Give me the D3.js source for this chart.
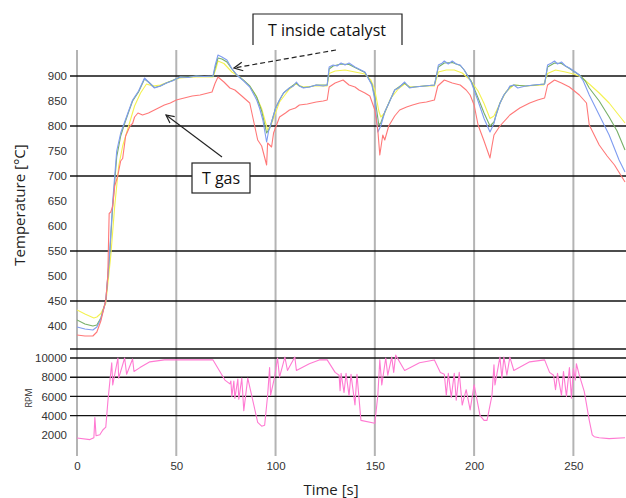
<!DOCTYPE html>
<html>
<head>
<meta charset="utf-8">
<script src="https://cdn.jsdelivr.net/npm/d3@7"></script>
<style>
  body { margin: 0; background: #fff; }
  svg { display: block; }
</style>
</head>
<body>
<div id="chart"></div>
<script>
// temperature + rpm over time, two stacked panels sharing the time axis

var w = 626;
var h = 498;

// time ticks
var timeTicks = [0, 50, 100, 150, 200, 250];
// temperature ticks (labels) and the lines that are drawn
var tempTicks = [400, 450, 500, 550, 600, 650, 700, 750, 800, 850, 900];
var tempLines = [900, 800, 700, 550, 450, 354];
// rpm ticks and lines
var rpmTicks = [2000, 4000, 6000, 8000, 10000];
var rpmLines = [4000, 6000, 8000, 10000];

// [time s, temperature C]
var blueData = [[0,398],[4,394],[8,392],[10,398],[12,414],[14.5,450],[16.5,550],[18,650],[20,750],[22,786],[24,808],[26,830],[28,852],[31,870],[34,896],[36,888],[39,876],[42,880],[45,886],[48,890],[52,898],[56,897],[60,900],[64,899],[68.5,900],[69.5,920],[71,942],[73,938],[75.5,932],[78,915],[80.5,902],[84,890],[87,878],[90.5,852],[92,835],[93.6,812],[95.5,768],[96.5,790],[98,808],[100,835],[102,852],[104,866],[107,876],[109,880],[110.5,888],[112,880],[114,876],[117,878],[120.5,882],[124,880],[126,882],[127,918],[129,922],[131,920],[133,926],[135,922],[137,926],[140,918],[143,912],[145,908],[148.5,882],[150,852],[151.5,788],[153,800],[155,828],[157,845],[160,872],[162,876],[165,888],[167.5,876],[170,878],[175,880],[180,882],[181,900],[182,922],[184,926],[185,930],[187,924],[189,930],[191,924],[193,922],[195,912],[198.5,888],[201.8,852],[205,815],[208,788],[210,805],[211,822],[213,845],[215,862],[217,872],[218,880],[220,882],[222,876],[226,880],[230,882],[235.5,884],[237,922],[239,926],[240.5,930],[242,924],[244,928],[246,920],[248,916],[251,908],[253,902],[255,890],[258,862],[263,822],[268,782],[273,732],[276,708]];

var greenData = [[0,412],[4,404],[8,400],[10,402],[12,416],[14.5,450],[16.5,545],[18,640],[20,738],[22,780],[24,805],[26,828],[28,850],[31,868],[34,894],[36,888],[39,877],[42,880],[45,886],[48,891],[52,898],[56,898],[60,900],[64,899],[68.5,899],[69.5,915],[71,936],[73,934],[75.5,928],[78,914],[80.5,902],[84,891],[87,880],[90.5,858],[93,830],[95.5,786],[97,795],[98,808],[100,836],[102,852],[104,866],[107,876],[110.5,886],[112,880],[114,877],[117,878],[120.5,882],[126,882],[127,914],[129,920],[133,924],[137,923],[140,917],[145,907],[148.5,884],[150,858],[152,802],[153,806],[155,828],[160,872],[165,886],[167.5,877],[175,880],[180,882],[182,918],[185,926],[189,927],[193,921],[195,912],[198.5,890],[201.8,858],[205,826],[208,800],[210,808],[213,846],[215,862],[218,878],[220,882],[226,880],[235.5,884],[237,918],[240.5,926],[244,925],[248,915],[253,902],[256,890],[258,876],[263,850],[268,818],[272,790],[276,752]];

var yellowData = [[0,432],[4,424],[8.5,416],[10,418],[12,425],[14.5,445],[17,540],[19,640],[21,720],[23,760],[26,800],[29,840],[32,866],[35,884],[38,880],[42,882],[46,888],[52,896],[60,898],[68.5,898],[70,915],[71,930],[74,925],[78,908],[82,898],[87,880],[90,862],[93,835],[96,792],[98,805],[102,848],[107,874],[110,884],[114,878],[120,880],[126,880],[127,905],[130,910],[135,912],[140,908],[145,904],[148,892],[150,872],[152,830],[153,818],[155,826],[158,855],[162,875],[165,884],[168,878],[175,880],[180,880],[182,908],[186,912],[190,912],[194,906],[198,892],[202,870],[205,845],[208,815],[210,820],[213,845],[216,868],[220,882],[226,880],[235,882],[237,905],[241,912],[246,908],[250,904],[254,898],[258,884],[263,866],[268,846],[272,826],[276,806]];

var redData = [[0,382],[4,380],[8,380],[10,388],[12,410],[14.5,452],[15.5,500],[16.2,625],[17,628],[18,640],[19,680],[20.5,700],[22,730],[23,735],[24.5,780],[26.7,800],[28,805],[29,818],[30.7,826],[33,822],[36,826],[40,834],[44,842],[47,846],[50,852],[54,856],[58,860],[62,862],[66,866],[68,868],[69.5,885],[71,898],[74,888],[77,876],[79.5,872],[83,860],[87,846],[89.6,798],[91,772],[93,760],[95.5,722],[96,766],[97,762],[98,758],[99,786],[102,818],[105,826],[107,832],[110,836],[112,842],[116,844],[120.5,848],[124,850],[126,852],[127,878],[130,886],[134,892],[137,882],[140,878],[142,872],[145,866],[147.5,860],[150,832],[151.5,792],[152.5,742],[154,782],[155,772],[157,800],[160,820],[162.5,832],[166,838],[169,842],[172.5,846],[176,848],[180,852],[181.7,880],[185,892],[189,886],[193,882],[196,872],[198,862],[200,842],[202,802],[205,770],[208,736],[209,760],[210,782],[213,800],[218,822],[223,836],[228,846],[232,852],[235.5,856],[237,882],[240.5,892],[244,886],[248,878],[253,862],[256.6,846],[258,802],[263,762],[267,740],[270.7,722],[276,688]];

// [time s, rpm]
var rpmData = [[0,1670],[6.5,1500],[8.5,1700],[9,3800],[9.6,1900],[11.5,2000],[13,2500],[14.5,2800],[15.6,5600],[17.5,9500],[18,7200],[20.6,10000],[21,7900],[24,10000],[25,8300],[28,9900],[28.7,8600],[31.7,9000],[36.7,9600],[44,9800],[62,9800],[68.5,9800],[74.5,7700],[77,7300],[77.5,7600],[78,6000],[79,7600],[79.5,5800],[81,7800],[81.5,5700],[83,7900],[84,4500],[86,7900],[91,3300],[93,2900],[94.5,3000],[96,6100],[97,9000],[97.5,6100],[99.5,8000],[101,10000],[102,8000],[104.7,10100],[106,8700],[109.7,10100],[110.5,8700],[117,9400],[122,9800],[126,9800],[130,8500],[132,8200],[132.5,6600],[133,8400],[134.5,6400],[135.5,8400],[137,6100],[138,8300],[140,5100],[141,8300],[143,3500],[150,3200],[151.5,6100],[152.5,9800],[153.5,7200],[155.5,10000],[156.5,8200],[158.5,10100],[159.5,8500],[160.5,10300],[165,8700],[172.5,9500],[180,9800],[183,8500],[185,8300],[186,6100],[187,8400],[188.5,5900],[190,8400],[191,5600],[192.5,8500],[194,5100],[196,6700],[198,4600],[200,7200],[203,4000],[205,3500],[206.5,3500],[209,6100],[210,9300],[210.5,7200],[213,10100],[214,7900],[215,10100],[216.5,8200],[218,10100],[220,8700],[228,9600],[235.5,9800],[238,8500],[240,8200],[241,6700],[242,8400],[244,6100],[245,8600],[246.5,6000],[248,9000],[249,5800],[250,8900],[251,7700],[251.5,9400],[253,8200],[255.5,6500],[258,3500],[259.5,2000],[260.5,1800],[263,1700],[268,1600],[276,1700]];

var series = [
  { data: yellowData, color: "#f4f250", width: 1.1 },
  { data: greenData, color: "#78b068", width: 1.1 },
  { data: blueData, color: "#7f9cf0", width: 1.1 },
  { data: redData, color: "#ff7878", width: 1.1 }
];

var svg = d3.select("#chart")
            .append("svg")
            .attr("width", w)
            .attr("height", h);

var x = d3.scaleLinear().domain([0, 277]).range([77, 627]);
var yT = d3.scaleLinear().domain([354, 950]).range([349, 51]);
var yR = d3.scaleLinear().domain([0, 10000]).range([454, 358]);

var gridLeft = 70;
var gridRight = 626;

svg.append("defs").append("clipPath").attr("id", "clip")
   .append("rect").attr("x", 77).attr("y", 40).attr("width", 549).attr("height", 420);

// vertical gray grid lines
svg.selectAll(".vgrid")
   .data(timeTicks)
   .enter()
   .append("line")
   .attr("x1", function(d) { return x(d); })
   .attr("x2", function(d) { return x(d); })
   .attr("y1", 50)
   .attr("y2", 456)
   .attr("stroke", "#b4b4b4")
   .attr("stroke-width", 2);

// horizontal black lines, temperature panel
svg.selectAll(".tgrid")
   .data(tempLines)
   .enter()
   .append("line")
   .attr("x1", gridLeft)
   .attr("x2", gridRight)
   .attr("y1", function(d) { return yT(d); })
   .attr("y2", function(d) { return yT(d); })
   .attr("stroke", "#111")
   .attr("stroke-width", 1.4);

// horizontal black lines, rpm panel
svg.selectAll(".rgrid")
   .data(rpmLines)
   .enter()
   .append("line")
   .attr("x1", gridLeft)
   .attr("x2", gridRight)
   .attr("y1", function(d) { return yR(d); })
   .attr("y2", function(d) { return yR(d); })
   .attr("stroke", "#111")
   .attr("stroke-width", 1.4);

// axes (labels only)
var tickFont = "'Liberation Sans', Arial, sans-serif";

var axT = svg.append("g")
   .attr("transform", "translate(67,0)")
   .call(d3.axisLeft(yT).tickValues(tempTicks).tickSize(0).tickPadding(0).tickFormat(d3.format("d")));
var axR = svg.append("g")
   .attr("transform", "translate(67,0)")
   .call(d3.axisLeft(yR).tickValues(rpmTicks).tickSize(0).tickPadding(0).tickFormat(d3.format("d")));
var axX = svg.append("g")
   .attr("transform", "translate(0,462)")
   .call(d3.axisBottom(x).tickValues(timeTicks).tickSize(0).tickPadding(0));

[axT, axR, axX].forEach(function(g) {
  g.select(".domain").remove();
  g.selectAll("text")
   .attr("fill", "#333")
   .style("font-family", tickFont)
   .style("font-size", "11.5px");
});

// temperature curves
var lineT = d3.line()
   .x(function(d) { return x(d[0]); })
   .y(function(d) { return yT(d[1]); });

var plot = svg.append("g").attr("clip-path", "url(#clip)");

plot.selectAll(".temp")
   .data(series)
   .enter()
   .append("path")
   .attr("d", function(d) { return lineT(d.data); })
   .attr("fill", "none")
   .attr("stroke", function(d) { return d.color; })
   .attr("stroke-width", function(d) { return d.width; })
   .attr("stroke-linejoin", "round");

// rpm curve
var lineR = d3.line()
   .x(function(d) { return x(d[0]); })
   .y(function(d) { return yR(d[1]); });

plot.append("path")
   .attr("d", lineR(rpmData))
   .attr("fill", "none")
   .attr("stroke", "#ff7ad2")
   .attr("stroke-width", 1.1)
   .attr("stroke-linejoin", "round");

// axis titles
var titleFont = "'Open Sans', 'Liberation Sans', sans-serif";

svg.append("text")
   .attr("transform", "translate(25,205) rotate(-90)")
   .attr("text-anchor", "middle")
   .style("font-family", titleFont)
   .style("font-size", "15px")
   .attr("fill", "#222")
   .text("Temperature [°C]");

svg.append("text")
   .attr("transform", "translate(32,398) rotate(-90)")
   .attr("text-anchor", "middle")
   .style("font-family", titleFont)
   .style("font-size", "9px")
   .attr("fill", "#333")
   .text("RPM");

svg.append("text")
   .attr("x", 331)
   .attr("y", 495)
   .attr("text-anchor", "middle")
   .style("font-family", titleFont)
   .style("font-size", "15px")
   .attr("fill", "#222")
   .text("Time [s]");

// annotations
svg.append("defs").append("marker")
   .attr("id", "arrow")
   .attr("viewBox", "0 0 10 10")
   .attr("refX", 9).attr("refY", 5)
   .attr("markerWidth", 9).attr("markerHeight", 9)
   .attr("orient", "auto")
   .append("path")
   .attr("d", "M1,1 L9,5 L1,9")
   .attr("fill", "none")
   .attr("stroke", "#222")
   .attr("stroke-width", 1.2);

// T inside catalyst box (bottom edge hidden)
svg.append("path")
   .attr("d", "M253,45 L253,14 L402,14 L402,45")
   .attr("fill", "#fff")
   .attr("stroke", "#222")
   .attr("stroke-width", 1.2);

svg.append("text")
   .attr("x", 327)
   .attr("y", 36)
   .attr("text-anchor", "middle")
   .style("font-family", titleFont)
   .style("font-size", "16px")
   .attr("fill", "#111")
   .text("T inside catalyst");

svg.append("line")
   .attr("x1", 336).attr("y1", 50)
   .attr("x2", 234).attr("y2", 68)
   .attr("stroke", "#222")
   .attr("stroke-width", 1.2)
   .attr("stroke-dasharray", "5,3")
   .attr("marker-end", "url(#arrow)");

// T gas box
svg.append("rect")
   .attr("x", 192).attr("y", 163)
   .attr("width", 58).attr("height", 30)
   .attr("fill", "#fff")
   .attr("stroke", "#222")
   .attr("stroke-width", 1.2);

svg.append("text")
   .attr("x", 221)
   .attr("y", 184)
   .attr("text-anchor", "middle")
   .style("font-family", titleFont)
   .style("font-size", "16px")
   .attr("fill", "#111")
   .text("T gas");

svg.append("line")
   .attr("x1", 222).attr("y1", 157)
   .attr("x2", 166).attr("y2", 115)
   .attr("stroke", "#222")
   .attr("stroke-width", 1.1)
   .attr("marker-end", "url(#arrow)");
</script>
</body>
</html>
